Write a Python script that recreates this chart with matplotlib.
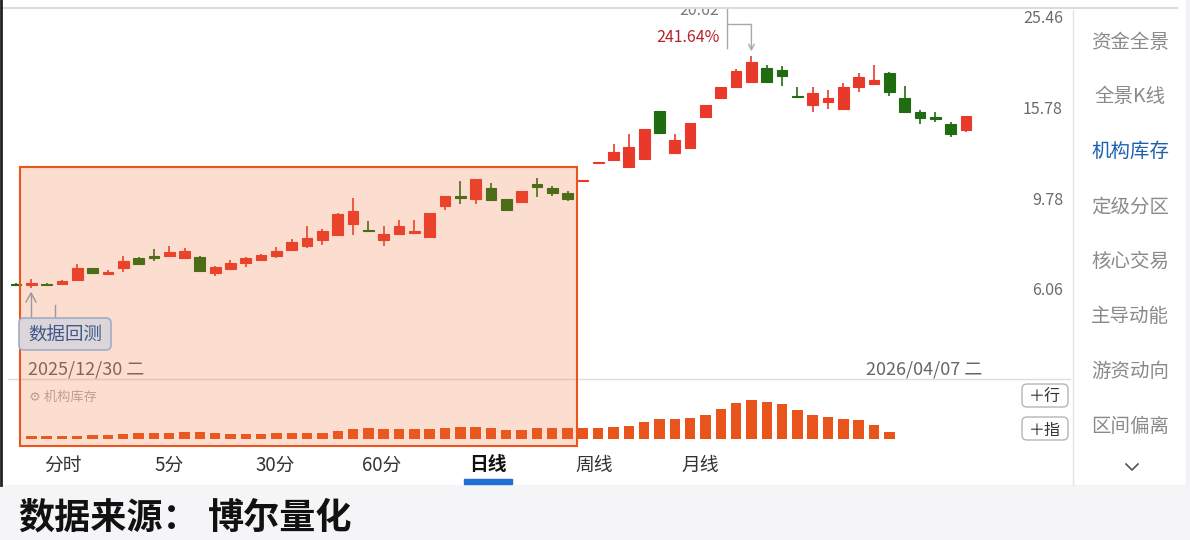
import numpy as np
import matplotlib
matplotlib.use('Agg')
import matplotlib.pyplot as plt
from matplotlib.patches import Rectangle, FancyBboxPatch
from matplotlib.lines import Line2D
from matplotlib.transforms import IdentityTransform

plt.rcParams['font.family'] = ['Noto Sans CJK SC', 'DejaVu Sans']

# daily K line, 2025/12/30 .. 2026/04/07
opens = [6.21, 6.15, 6.20, 6.20, 6.33, 6.74, 6.53, 6.75, 7.09, 7.19,
         7.20, 7.10, 7.14, 6.55, 6.70, 6.93, 7.05, 7.18, 7.42, 7.58,
         7.82, 8.03, 8.50, 8.23, 7.82, 8.06, 8.13, 7.95, 9.34, 9.85,
         9.68, 10.26, 9.68, 9.56, 10.48, 10.27, 10.03, 10.66, 11.71, 11.91,
         11.50, 11.97, 15.43, 12.36, 12.69, 14.99, 16.52, 17.51, 17.98, 19.39,
         19.19, 16.72, 15.92, 16.23, 15.59, 17.57, 17.79, 18.92, 16.58, 15.37,
         14.99, 14.45, 13.95]
highs = [6.23, 6.36, 6.22, 6.33, 6.88, 6.74, 6.68, 7.19, 7.13, 7.45,
         7.58, 7.51, 7.19, 6.80, 7.03, 7.15, 7.26, 7.54, 7.85, 8.42,
         8.28, 8.99, 9.75, 8.63, 8.40, 8.68, 8.68, 8.99, 9.88, 10.70,
         10.76, 10.57, 9.68, 10.15, 10.87, 10.40, 10.15, 10.74, 11.81, 12.99,
         13.69, 14.06, 15.43, 13.69, 14.53, 15.95, 17.54, 19.26, 20.62, 19.70,
         19.60, 17.57, 17.51, 17.26, 17.88, 18.89, 19.70, 18.99, 17.60, 15.51,
         15.39, 14.58, 15.05]
lows = [6.15, 6.07, 6.13, 6.19, 6.33, 6.54, 6.50, 6.61, 6.84, 7.00,
        7.15, 7.06, 6.60, 6.47, 6.68, 6.78, 7.00, 7.10, 7.36, 7.50,
        7.62, 8.01, 8.03, 8.18, 7.58, 8.03, 8.13, 7.95, 9.18, 9.43,
        9.44, 9.66, 9.10, 9.54, 9.82, 9.88, 9.59, 10.66, 11.71, 11.85,
        11.50, 11.95, 13.70, 12.36, 12.67, 14.87, 16.44, 17.51, 17.98, 17.98,
        17.63, 16.61, 15.39, 15.59, 15.51, 17.08, 17.79, 16.75, 15.39, 14.45,
        14.58, 13.49, 13.83]
closes = [6.17, 6.22, 6.16, 6.30, 6.75, 6.56, 6.60, 6.99, 6.87, 7.11,
          7.33, 7.37, 6.62, 6.76, 6.93, 7.09, 7.21, 7.36, 7.74, 7.88,
          8.18, 8.97, 9.10, 8.18, 8.07, 8.42, 8.19, 8.99, 9.88, 9.74,
          10.76, 9.66, 9.18, 10.15, 10.33, 10.01, 9.71, 10.74, 11.81, 12.47,
          12.78, 14.06, 13.72, 13.22, 14.53, 15.95, 17.54, 19.06, 20.02, 17.98,
          18.59, 16.61, 16.96, 16.55, 17.51, 18.52, 18.23, 17.08, 15.39, 14.87,
          14.81, 13.66, 15.05]

# 机构库存 indicator, starts at the 2nd candle
inst_stock = [3.0, 3.0, 3.0, 3.3, 4.3, 4.3, 5.0, 5.7, 6.0, 6.3,
              7.0, 6.7, 6.3, 5.3, 5.3, 5.3, 5.7, 5.7, 6.0, 6.3,
              8.0, 10.0, 10.7, 10.0, 10.0, 9.7, 10.0, 10.7, 12.0, 12.3,
              11.3, 9.0, 9.3, 10.7, 11.0, 10.7, 11.0, 11.0, 12.3, 13.0,
              16.7, 19.7, 19.7, 20.7, 24.3, 30.3, 36.0, 39.0, 37.0, 35.3,
              28.7, 24.3, 22.0, 20.3, 18.7, 14.3, 7.3]

price_ticks = [6.06, 9.78, 15.78, 25.46]
start_label = '2025/12/30 二'
end_label = '2026/04/07 二'
peak_label = '20.62'
peak_pct = '241.64%'
tabs = ['分时', '5分', '30分', '60分', '日线', '周线', '月线']
active_tab = '日线'
menu_items = ['资金全景', '全景K线', '机构库存', '定级分区', '核心交易', '主导动能', '游资动向', '区间偏离']
active_menu = '机构库存'

RED = '#e8392b'
GREEN = '#1f6d10'
ORANGE = '#e9531c'

W, H = 1190, 540
fig = plt.figure(figsize=(W / 100, H / 100), dpi=100)

# price panel (log scale)
ax = fig.add_axes([0, 1 - 379 / H, 1073 / W, 371 / H])
ax.set_yscale('log')
ax.set_xlim(-1.044, 68.99)
ax.set_ylim(3.75, 26.62)
ax.axis('off')

o, h, l, c = map(np.array, (opens, highs, lows, closes))
x = np.arange(len(o))
col = np.where(c >= o, RED, GREEN)
ax.vlines(x, l, h, colors=col, lw=1.2, zorder=2)
ax.bar(x, np.maximum(np.abs(c - o), 1e-6), bottom=np.minimum(o, c), width=0.7,
       color=col, edgecolor=col, linewidth=0.8, zorder=3)

for t in price_ticks:
    ax.annotate(f'{t:.2f}', xy=(1063 / 1073, t), xycoords=ax.get_yaxis_transform(),
                xytext=(0, -2.5), textcoords='offset pixels',
                ha='right', va='center', fontsize=11.5, color='#6b6b6b')

# peak marker
pk = int(np.argmax(h))
px, py = ax.transData.transform((pk, h[pk]))
ax.add_line(Line2D([px - 24, px - 24], [py + 8, py + 70], transform=IdentityTransform(),
                   color='#a8a8a8', lw=1))
ax.add_line(Line2D([px - 24, px], [py + 32, py + 32], transform=IdentityTransform(),
                   color='#a8a8a8', lw=1))
ax.annotate('', xy=(px, py + 5), xytext=(px, py + 32), xycoords='figure pixels',
            textcoords='figure pixels',
            arrowprops=dict(arrowstyle='->', color='#a8a8a8', lw=1, shrinkA=0, shrinkB=0))
ax.annotate(peak_label, xy=(pk, h[pk]), xytext=(-32, 46), textcoords='offset pixels',
            ha='right', va='center', fontsize=11.5, color='#777777', clip_on=True)
ax.annotate(peak_pct, xy=(pk, h[pk]), xytext=(-32, 19), textcoords='offset pixels',
            ha='right', va='center', fontsize=11.5, color='#b3232b', clip_on=True)

# indicator panel
axv = fig.add_axes([0, 1 - 439 / H, 1073 / W, 60 / H])
axv.set_xlim(-1.044, 68.99)
axv.set_ylim(0, 60)
axv.axis('off')
axv.bar(np.arange(1, len(inst_stock) + 1), inst_stock, width=0.68, color=ORANGE)

# app chrome, pixel coordinates from top-left
ui = fig.add_axes([0, 0, 1, 1], zorder=5)
ui.set_xlim(0, W)
ui.set_ylim(H, 0)
ui.axis('off')

ui.add_patch(Rectangle((0, 485), W, 55, color='#f5f5f8', zorder=1))
ui.add_patch(Rectangle((1186, 0), 4, 485, color='#f3f3f6', zorder=1))
ui.plot([0, 1177], [8, 8], color='#dcdcdc', lw=1.5, zorder=1)
ui.plot([1073, 1073], [10, 485], color='#e4e4e4', lw=1, zorder=1)
ui.plot([8, 1070], [379, 379], color='#dedede', lw=1, zorder=1)
ui.plot([1, 1], [0, 485], color='#222222', lw=2, zorder=6)

ui.text(28, 370, start_label, ha='left', va='center', fontsize=13, color='#666666', zorder=2)
ui.text(982, 370, end_label, ha='right', va='center', fontsize=13, color='#666666', zorder=2)
ui.text(29, 397, '⚙ 机构库存', ha='left', va='center', fontsize=9.5, color='#b0b0b0', zorder=2)

# backtest selection
ui.add_patch(Rectangle((20, 167), 557, 279, facecolor=(0.949, 0.416, 0.18, 0.22),
                       edgecolor='#e8561e', lw=1.5, zorder=3))
ui.plot([31, 31], [293, 318], color='#999999', lw=1, zorder=4)
ui.plot([26, 31, 36], [302, 293, 302], color='#999999', lw=1, zorder=4)
ui.plot([55, 55], [305, 318], color='#999999', lw=1, zorder=4)
ui.add_patch(FancyBboxPatch((19, 318), 92, 32, boxstyle='round,pad=0,rounding_size=5',
                            facecolor='#dcd6da', edgecolor='#a3acc6', lw=1.2, zorder=4))
ui.text(65, 336, '数据回测', ha='center', va='center', fontsize=13.3, color='#3e5a8a', zorder=5)

# +行 / +指
for yb, label in [(384, '＋行'), (417, '＋指')]:
    ui.add_patch(FancyBboxPatch((1022, yb), 46, 23, boxstyle='round,pad=0,rounding_size=5',
                                facecolor='white', edgecolor='#b5b5b5', lw=1, zorder=2))
    ui.text(1045, yb + 13, label, ha='center', va='center', fontsize=11.5, color='#333333', zorder=3)

# period tabs
for i, t in enumerate(tabs):
    on = t == active_tab
    ui.text(63 + 106.2 * i, 465, t, ha='center', va='center', fontsize=13.5,
            color='#111111' if on else '#333333', fontweight='bold' if on else 'normal', zorder=2)
ui.add_patch(Rectangle((464, 479), 48, 5, color='#1f6fd8', zorder=2))

# right menu
for i, m in enumerate(menu_items):
    ui.text(1130, 42 + 54.9 * i, m, ha='center', va='center', fontsize=14,
            color='#1f5fae' if m == active_menu else '#8a8a8a', zorder=2)
ui.plot([1126, 1132, 1138], [464, 470, 464], color='#555555', lw=1.2, zorder=2)

ui.text(18, 518, '数据来源：', ha='left', va='center', fontsize=26,
        fontweight='bold', color='#111111', zorder=2)
ui.text(208, 518, '博尔量化', ha='left', va='center', fontsize=26,
        fontweight='bold', color='#111111', zorder=2)

plt.savefig('out.png', dpi=100)
